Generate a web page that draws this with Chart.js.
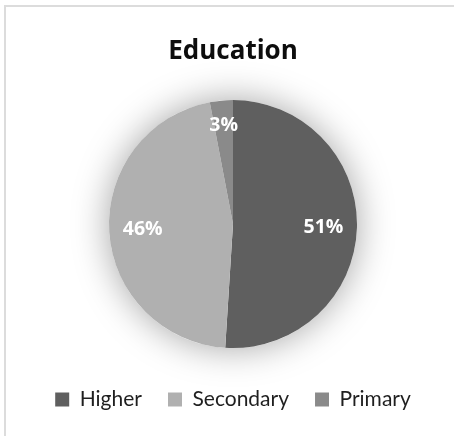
<!DOCTYPE html>
<html>
<head>
<meta charset="utf-8">
<title>Education</title>
<script src="https://cdn.jsdelivr.net/npm/chart.js@4.4.1/dist/chart.umd.min.js"></script>
<style>
    body { margin: 0; background: #fff; overflow: hidden; }
    .frame {
        position: absolute;
        left: 4px;
        top: 5px;
        width: 470px;
        height: 460px;
        border: 2px solid #dcdcdc;
        background: #fff;
    }
    #education-chart { display: block; }
</style>
</head>
<body>
<div class="frame">
    <canvas id="education-chart" width="454" height="429"></canvas>
</div>
<script>
let levels = ["Higher", "Secondary", "Primary"];
let shares = [51, 46, 3];
let sliceColors = ["#5f5f5f", "#b0b0b0", "#8a8a8a"];

// soft shadow under the whole pie (drawn once, so slices don't shade each other)
const pieShadow = {
    id: 'pieShadow',
    beforeDatasetsDraw(chart) {
        let arc = chart.getDatasetMeta(0).data[0];
        if (!arc) return;
        let ctx = chart.ctx;
        ctx.save();
        ctx.shadowColor = 'rgba(0, 0, 0, 0.36)';
        ctx.shadowBlur = 36;
        ctx.fillStyle = '#ffffff';
        ctx.beginPath();
        ctx.arc(arc.x, arc.y, arc.outerRadius, 0, Math.PI * 2);
        ctx.fill();
        ctx.restore();
    }
};

// percentage labels inside each slice
const sliceLabels = {
    id: 'sliceLabels',
    afterDatasetsDraw(chart) {
        let ctx = chart.ctx;
        let values = chart.data.datasets[0].data;
        ctx.save();
        ctx.font = 'bold 19.5px "Open Sans"';
        ctx.fillStyle = '#ffffff';
        ctx.textAlign = 'center';
        ctx.textBaseline = 'middle';
        chart.getDatasetMeta(0).data.forEach((arc, i) => {
            let mid = (arc.startAngle + arc.endAngle) / 2;
            let k = values[i] < 5 ? 0.8 : 0.73; // thin slices push label outward
            let x = arc.x + Math.cos(mid) * arc.outerRadius * k;
            let y = arc.y + Math.sin(mid) * arc.outerRadius * k;
            ctx.fillText(values[i] + '%', x, y);
        });
        ctx.restore();
    }
};

let ctx = document.getElementById('education-chart').getContext('2d');

new Chart(ctx, {
    type: 'pie',
    data: {
        labels: levels,
        datasets: [{
            data: shares,
            backgroundColor: sliceColors,
            borderWidth: 0,
            radius: 124
        }]
    },
    options: {
        responsive: false,
        animation: false,
        layout: { padding: { bottom: 16 } },
        plugins: {
            title: {
                display: true,
                text: 'Education',
                color: '#0d0d0d',
                font: { family: 'Open Sans', size: 26, weight: 'bold' },
                padding: { top: 29, bottom: 18 }
            },
            legend: {
                position: 'bottom',
                labels: {
                    color: '#1f1f1f',
                    font: { family: 'Lato', size: 21 },
                    boxWidth: 14,
                    boxHeight: 14,
                    padding: 26
                }
            },
            tooltip: { enabled: false }
        }
    },
    plugins: [pieShadow, sliceLabels]
});
</script>
</body>
</html>
